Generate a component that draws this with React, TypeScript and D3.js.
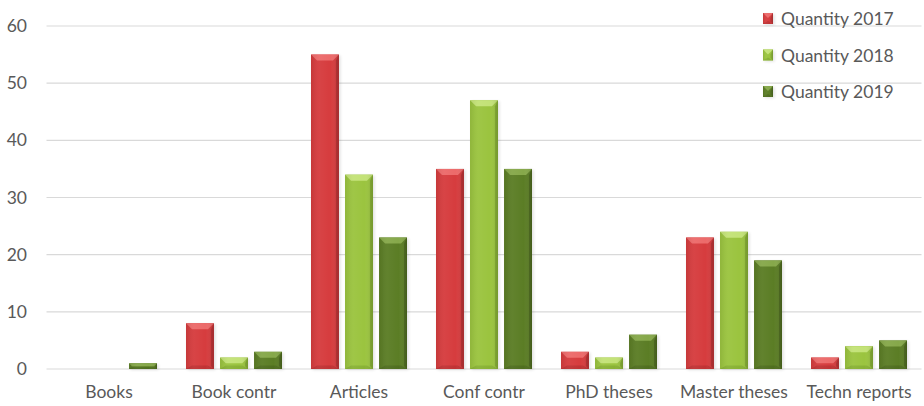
import React from 'react';
import * as d3 from 'd3';

const categories = ['Books', 'Book contr', 'Articles', 'Conf contr', 'PhD theses', 'Master theses', 'Techn reports'];
const seriesNames = ['Quantity 2017', 'Quantity 2018', 'Quantity 2019'];
const q2017 = [0, 8, 55, 35, 3, 23, 2];
const q2018 = [0, 2, 34, 47, 2, 24, 4];
const q2019 = [1, 3, 23, 35, 6, 19, 5];
const yTicks = [0, 10, 20, 30, 40, 50, 60];

const series = [q2017, q2018, q2019];
const palette = [
  { base: '#d63c3e', light: '#ec6a6a', dark: '#a92a2c' },
  { base: '#9bc43f', light: '#c3e277', dark: '#78a02c' },
  { base: '#5b7d25', light: '#86a84a', dark: '#445f19' },
];

const W = 924;
const H = 406;
const margin = { top: 26, right: 2.5, bottom: 37, left: 46.5 };
const font = 'Lato, "Open Sans", sans-serif';
const fs = 17.5;

const x0 = d3.scaleBand<string>()
  .domain(categories)
  .range([margin.left, W - margin.right])
  .paddingInner(0.232)
  .paddingOuter(0.116);

const x1 = d3.scaleBand<number>()
  .domain([0, 1, 2])
  .range([0, x0.bandwidth()])
  .paddingInner(0.18);

const y = d3.scaleLinear().domain([0, 60]).range([H - margin.bottom, margin.top]);

function BevelBar({ x, yTop, w, h, c }: { x: number; yTop: number; w: number; h: number; c: typeof palette[0] }) {
  if (h <= 0) return null;
  const b = Math.min(6, h / 2, w / 2);
  const x2 = x + w;
  const y2 = yTop + h;
  return (
    <g>
      <rect x={x + 1.5} y={yTop + 1} width={w} height={h} fill="#000" opacity={0.12} filter="url(#sh)" />
      <rect x={x} y={yTop} width={w} height={h} fill={c.base} />
      {/* top bevel */}
      <polygon points={`${x},${yTop} ${x2},${yTop} ${x2 - b},${yTop + b} ${x + b},${yTop + b}`} fill={c.light} />
      {/* left bevel */}
      <polygon points={`${x},${yTop} ${x + b * 0.5},${yTop + b} ${x + b * 0.5},${y2 - b * 0.5} ${x},${y2}`} fill={c.base} opacity={0.6} />
      {/* right bevel */}
      <polygon points={`${x2},${yTop} ${x2 - b * 0.5},${yTop + b} ${x2 - b * 0.5},${y2 - b * 0.5} ${x2},${y2}`} fill={c.dark} opacity={0.7} />
      {/* bottom bevel */}
      <polygon points={`${x},${y2} ${x2},${y2} ${x2 - b},${y2 - b * 0.6} ${x + b},${y2 - b * 0.6}`} fill={c.dark} opacity={0.5} />
      <rect x={x} y={yTop} width={w} height={h} fill="url(#shade)" />
    </g>
  );
}

export default function App() {
  return (
    <svg width={W} height={H} style={{ position: 'absolute', left: 0, top: 0 }}>
      <defs>
        <filter id="sh" x="-20%" y="-20%" width="140%" height="140%">
          <feGaussianBlur stdDeviation="1.5" />
        </filter>
        <linearGradient id="shade" x1="0" x2="1" y1="0" y2="0">
          <stop offset="0" stopColor="#000" stopOpacity={0.08} />
          <stop offset="0.3" stopColor="#fff" stopOpacity={0.04} />
          <stop offset="0.7" stopColor="#fff" stopOpacity={0} />
          <stop offset="1" stopColor="#000" stopOpacity={0.12} />
        </linearGradient>
      </defs>
      <rect width={W} height={H} fill="#fff" />
      {yTicks.map(t => (
        <g key={t}>
          <line x1={margin.left} x2={W - margin.right} y1={y(t)} y2={y(t)} stroke="#d9d9d9" strokeWidth={1.2} />
          <text x={27} y={y(t)} dy="0.35em" textAnchor="end" fontFamily={font} fontSize={fs} fill="#595959">{t}</text>
        </g>
      ))}
      {categories.map((cat, i) => (
        <g key={cat}>
          {series.map((s, k) => (
            <BevelBar
              key={k}
              x={(x0(cat) ?? 0) + (x1(k) ?? 0)}
              yTop={y(s[i])}
              w={x1.bandwidth()}
              h={y(0) - y(s[i])}
              c={palette[k]}
            />
          ))}
          <text x={(x0(cat) ?? 0) + x0.bandwidth() / 2} y={398} textAnchor="middle" fontFamily={font} fontSize={fs} fill="#595959">{cat}</text>
        </g>
      ))}
      {seriesNames.map((name, k) => (
        <g key={name} transform={`translate(763, ${13 + k * 36.5})`}>
          <BevelBar x={0} yTop={0} w={10} h={11} c={palette[k]} />
          <text x={18} y={6} dy="0.35em" fontFamily={font} fontSize={fs} fill="#595959">{name}</text>
        </g>
      ))}
    </svg>
  );
}
